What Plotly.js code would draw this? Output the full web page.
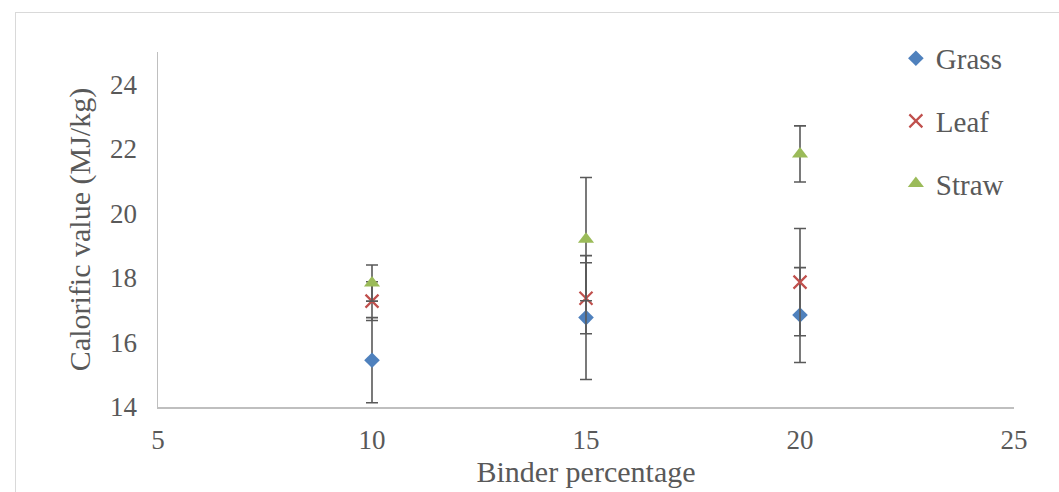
<!DOCTYPE html>
<html><head><meta charset="utf-8">
<script src="https://cdn.plot.ly/plotly-3.0.1.min.js"></script>
<style>html,body{margin:0;padding:0;background:#fff;}#wrap{position:relative;width:1059px;height:492px;}#frame{position:absolute;left:15px;top:12px;width:1100px;height:500px;border:1.5px solid #d9d9d9;pointer-events:none;}</style>
</head><body>
<div id="wrap"><div id="plot" style="width:1059px;height:492px;"></div><div id="frame"></div></div>
<script>
const binder = [10, 15, 20];
const grass = [15.45, 16.77, 16.85];
const grassErr = [1.32, 1.92, 1.47];
const leaf = [17.28, 17.37, 17.87];
const leafErr = [0.60, 1.10, 1.66];
const straw = [17.84, 19.20, 21.84];
const strawErr = [0.56, 1.91, 0.87];

function errBar(arr){return {type:'data', array:arr, visible:true, color:'#595959', thickness:1.6, width:6};}
const traces = [
  {x:binder, y:grass, name:'Grass', legendgroup:'g', mode:'markers', type:'scatter',
   marker:{symbol:'diamond', size:12, color:'#4F81BD'}, error_y:errBar(grassErr)},
  {x:binder, y:leaf, name:'Leaf', legendgroup:'l', mode:'markers', type:'scatter',
   marker:{symbol:'x-thin-open', size:13, color:'#C0504D', line:{color:'#C0504D', width:2.2}}, error_y:errBar(leafErr)},
  {x:binder, y:straw, name:'Straw', legendgroup:'s', mode:'markers', type:'scatter',
   marker:{symbol:'triangle-up', size:14, color:'#9BBB59'}, error_y:errBar(strawErr)}
];
const layout = {
  width:1059, height:492,
  margin:{l:158, r:45, t:52, b:85},
  paper_bgcolor:'#fff', plot_bgcolor:'#fff',
  font:{family:'"Liberation Serif", "Times New Roman", serif', color:'#595959', size:20},
  xaxis:{range:[5,25], dtick:5, tick0:5, showgrid:false, zeroline:false, showline:true, linecolor:'#bfbfbf', linewidth:1.5,
    ticks:'', tickfont:{size:27, color:'#595959'}, ticklabelstandoff:8,
    title:{text:'Binder percentage', font:{size:30, color:'#595959'}, standoff:6}},
  yaxis:{range:[14,25], tickvals:[14,16,18,20,22,24], showgrid:false, zeroline:false, showline:true, linecolor:'#bfbfbf', linewidth:1.5,
    ticks:'', tickfont:{size:27, color:'#595959'}, ticklabelstandoff:14,
    title:{text:'Calorific value (MJ/kg)', font:{size:30, color:'#595959'}, standoff:10}},
  showlegend:true,
  legend:{x:0.862, y:1.054, xanchor:'left', yanchor:'top', font:{size:29, color:'#595959'}, tracegroupgap:22, itemwidth:30, bgcolor:'rgba(0,0,0,0)'}
};
Plotly.newPlot('plot', traces, layout, {displayModeBar:false, staticPlot:true});
</script>
</body></html>
